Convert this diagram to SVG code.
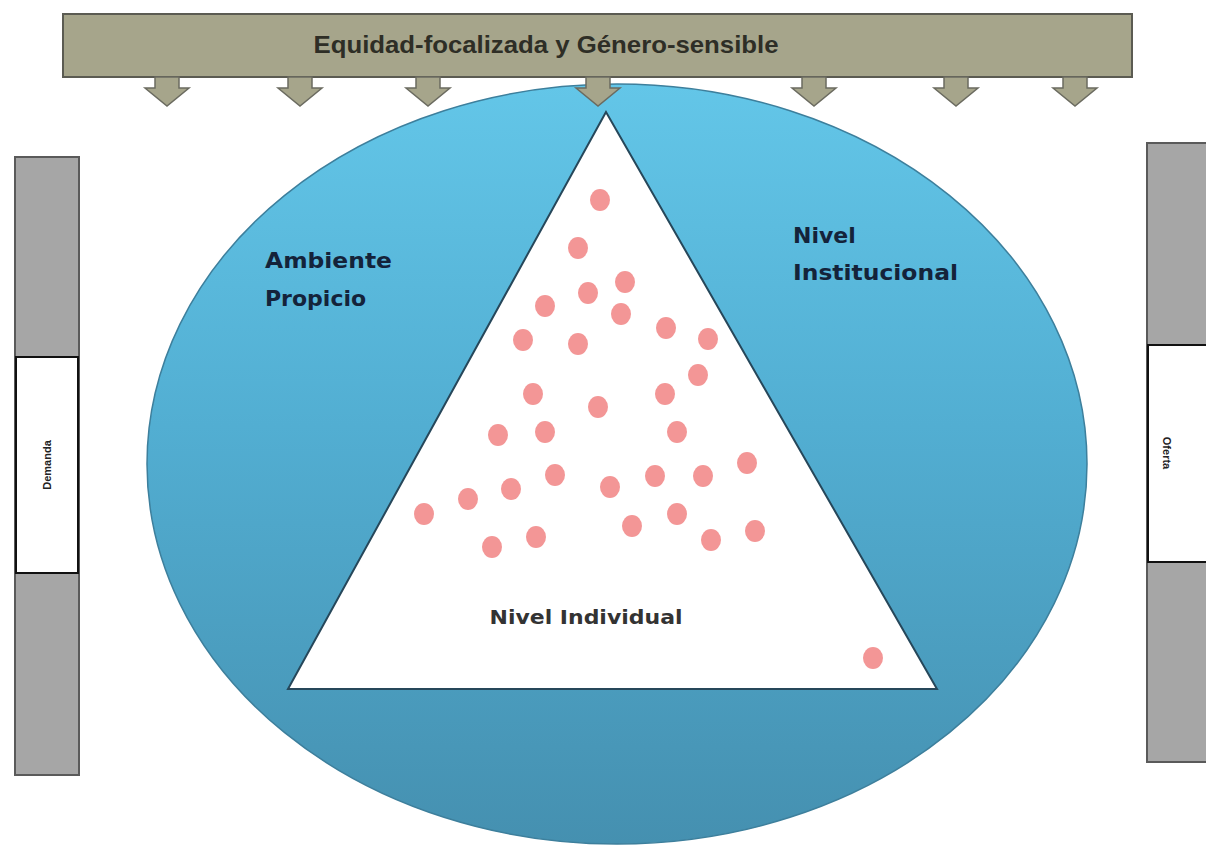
<svg xmlns="http://www.w3.org/2000/svg" width="1206" height="847" viewBox="0 0 1206 847">
  <style>
    .bar { fill: #a6a58b; stroke: #5b5b52; stroke-width: 2; }
    .arrow { fill: #a6a58b; stroke: #6b6b60; stroke-width: 1.5; }
    .side { fill: #a6a6a6; stroke: #5a5a5a; stroke-width: 2; }
    .box { fill: #ffffff; stroke: #111111; stroke-width: 2; }
    .dot { fill: #f39696; }
    .title { font-family: "Liberation Sans", Arial, sans-serif; font-weight: bold; font-size: 24px; fill: #2e2e26; }
    .lbl { font-family: "DejaVu Sans", Verdana, sans-serif; font-weight: bold; font-size: 22px; fill: #14233a; }
    .ind { font-family: "DejaVu Sans", Verdana, sans-serif; font-weight: bold; font-size: 20px; fill: #333333; }
    .side-t { font-family: "Liberation Sans", Arial, sans-serif; font-weight: bold; font-size: 11px; fill: #222222; }
  </style>
  <defs>
    <linearGradient id="blue" x1="0" y1="0" x2="0" y2="1">
      <stop offset="0" stop-color="#63c6e8"/>
      <stop offset="0.45" stop-color="#52aed2"/>
      <stop offset="1" stop-color="#4590b0"/>
    </linearGradient>
    <path id="arr" d="M -12 0 L 12 0 L 12 11 L 22 11 L 0 29 L -22 11 L -12 11 Z"/>
  </defs>

  <g id="circle-node">
    <ellipse cx="617" cy="464" rx="470" ry="380" fill="url(#blue)" stroke="#3d7f9c" stroke-width="1.5"/>
  </g>

  <g id="top-bar">
    <rect class="bar" x="63" y="14" width="1069" height="63"/>
    <text class="title" x="546" y="53" text-anchor="middle" textLength="465" lengthAdjust="spacingAndGlyphs">Equidad-focalizada y Género-sensible</text>
  </g>

  <g id="connectors">
    <use href="#arr" class="arrow" x="167" y="77"/>
    <use href="#arr" class="arrow" x="300" y="77"/>
    <use href="#arr" class="arrow" x="428" y="77"/>
    <use href="#arr" class="arrow" x="598" y="77"/>
    <use href="#arr" class="arrow" x="814" y="77"/>
    <use href="#arr" class="arrow" x="956" y="77"/>
    <use href="#arr" class="arrow" x="1075" y="77"/>
  </g>

  <g id="triangle-node">
    <polygon points="606,112 288,689 937,689" fill="#ffffff" stroke="#26475a" stroke-width="2"/>
    <text class="ind" x="586" y="624" text-anchor="middle" textLength="193" lengthAdjust="spacingAndGlyphs">Nivel Individual</text>
  </g>

  <g id="ambiente-label">
    <text class="lbl" x="265" y="268" textLength="127" lengthAdjust="spacingAndGlyphs">Ambiente</text>
    <text class="lbl" x="265" y="306">Propicio</text>
  </g>

  <g id="institucional-label">
    <text class="lbl" x="793" y="243">Nivel</text>
    <text class="lbl" x="793" y="280" textLength="165" lengthAdjust="spacingAndGlyphs">Institucional</text>
  </g>

  <g id="dots">
    <ellipse class="dot" cx="600" cy="200" rx="10" ry="11"/>
    <ellipse class="dot" cx="578" cy="248" rx="10" ry="11"/>
    <ellipse class="dot" cx="625" cy="282" rx="10" ry="11"/>
    <ellipse class="dot" cx="588" cy="293" rx="10" ry="11"/>
    <ellipse class="dot" cx="545" cy="306" rx="10" ry="11"/>
    <ellipse class="dot" cx="621" cy="314" rx="10" ry="11"/>
    <ellipse class="dot" cx="666" cy="328" rx="10" ry="11"/>
    <ellipse class="dot" cx="523" cy="340" rx="10" ry="11"/>
    <ellipse class="dot" cx="578" cy="344" rx="10" ry="11"/>
    <ellipse class="dot" cx="708" cy="339" rx="10" ry="11"/>
    <ellipse class="dot" cx="698" cy="375" rx="10" ry="11"/>
    <ellipse class="dot" cx="533" cy="394" rx="10" ry="11"/>
    <ellipse class="dot" cx="665" cy="394" rx="10" ry="11"/>
    <ellipse class="dot" cx="598" cy="407" rx="10" ry="11"/>
    <ellipse class="dot" cx="498" cy="435" rx="10" ry="11"/>
    <ellipse class="dot" cx="545" cy="432" rx="10" ry="11"/>
    <ellipse class="dot" cx="677" cy="432" rx="10" ry="11"/>
    <ellipse class="dot" cx="747" cy="463" rx="10" ry="11"/>
    <ellipse class="dot" cx="555" cy="475" rx="10" ry="11"/>
    <ellipse class="dot" cx="655" cy="476" rx="10" ry="11"/>
    <ellipse class="dot" cx="703" cy="476" rx="10" ry="11"/>
    <ellipse class="dot" cx="468" cy="499" rx="10" ry="11"/>
    <ellipse class="dot" cx="511" cy="489" rx="10" ry="11"/>
    <ellipse class="dot" cx="610" cy="487" rx="10" ry="11"/>
    <ellipse class="dot" cx="424" cy="514" rx="10" ry="11"/>
    <ellipse class="dot" cx="677" cy="514" rx="10" ry="11"/>
    <ellipse class="dot" cx="632" cy="526" rx="10" ry="11"/>
    <ellipse class="dot" cx="755" cy="531" rx="10" ry="11"/>
    <ellipse class="dot" cx="536" cy="537" rx="10" ry="11"/>
    <ellipse class="dot" cx="492" cy="547" rx="10" ry="11"/>
    <ellipse class="dot" cx="711" cy="540" rx="10" ry="11"/>
    <ellipse class="dot" cx="873" cy="658" rx="10" ry="11"/>
  </g>

  <g id="demanda-node">
    <rect class="side" x="15" y="157" width="64" height="618"/>
    <rect class="box" x="16" y="357" width="62" height="216"/>
    <text class="side-t" x="0" y="0" text-anchor="middle" transform="translate(51 465) rotate(-90)">Demanda</text>
  </g>

  <g id="oferta-node">
    <rect class="side" x="1147" y="143" width="70" height="619"/>
    <rect class="box" x="1148" y="345" width="70" height="217"/>
    <text class="side-t" x="0" y="0" text-anchor="middle" transform="translate(1163 453) rotate(90)">Oferta</text>
  </g>
</svg>
